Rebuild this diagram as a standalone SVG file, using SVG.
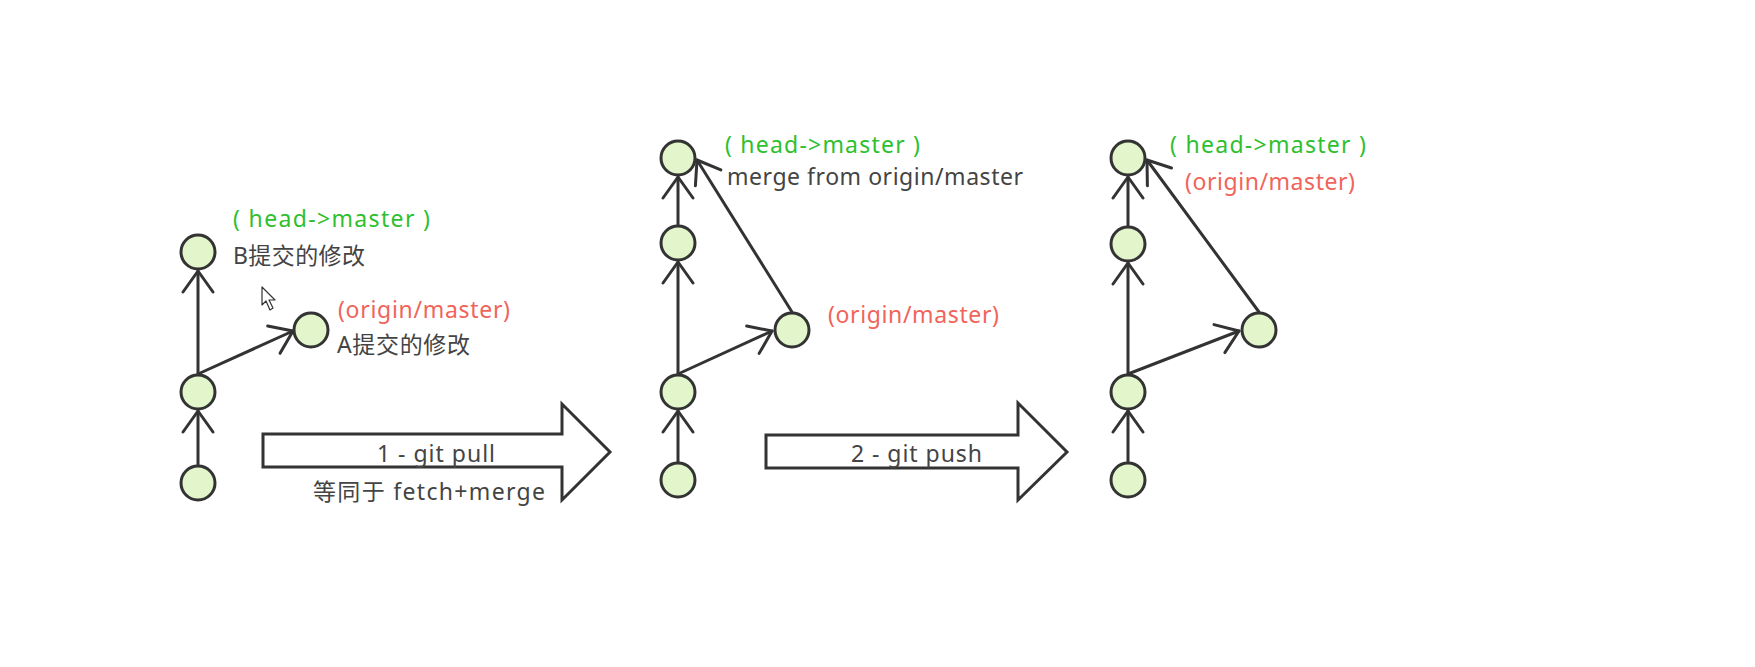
<svg xmlns="http://www.w3.org/2000/svg" width="1755" height="667" viewBox="0 0 1755 667">
<style>
.node{fill:#e2f5cb;stroke:#333;stroke-width:3}
.edge{stroke:#333;stroke-width:3;fill:none;stroke-linecap:round}
.blk{fill:#fff;stroke:#333;stroke-width:3;stroke-linejoin:miter}
text{font-family:"Noto Sans","Noto Sans CJK SC",sans-serif;font-size:23px}
.g{fill:#2fbf2f}
.r{fill:#f0645a}
.k{fill:#444}
</style>
<defs>
<marker id="ah" markerUnits="userSpaceOnUse" markerWidth="40" markerHeight="40" viewBox="-25 -20 30 40" refX="0" refY="0" orient="auto">
<path d="M -21 -15 L 0 0 L -21 15" fill="none" stroke="#333" stroke-width="3" stroke-linecap="round" stroke-linejoin="round"/>
</marker>
</defs>
<rect width="1755" height="667" fill="#fff"/>
<g id="connectors">
<line class="edge" x1="198" y1="465" x2="198" y2="411" marker-end="url(#ah)"/>
<line class="edge" x1="198" y1="374" x2="198" y2="271" marker-end="url(#ah)"/>
<line class="edge" x1="198" y1="374" x2="293" y2="331" marker-end="url(#ah)"/>
<line class="edge" x1="678" y1="462" x2="678" y2="411" marker-end="url(#ah)"/>
<line class="edge" x1="678" y1="374" x2="678" y2="262" marker-end="url(#ah)"/>
<line class="edge" x1="678" y1="225" x2="678" y2="177" marker-end="url(#ah)"/>
<line class="edge" x1="678" y1="374" x2="772" y2="331" marker-end="url(#ah)"/>
<line class="edge" x1="792" y1="312" x2="697" y2="160" marker-end="url(#ah)"/>
<line class="edge" x1="1128" y1="462" x2="1128" y2="411" marker-end="url(#ah)"/>
<line class="edge" x1="1128" y1="374" x2="1128" y2="263" marker-end="url(#ah)"/>
<line class="edge" x1="1128" y1="226" x2="1128" y2="177" marker-end="url(#ah)"/>
<line class="edge" x1="1128" y1="374" x2="1239" y2="331" marker-end="url(#ah)"/>
<line class="edge" x1="1259" y1="312" x2="1147" y2="160" marker-end="url(#ah)"/>
</g>
<g id="d1-n1"><circle class="node" cx="198" cy="483" r="17"/></g>
<g id="d1-n2"><circle class="node" cx="198" cy="392" r="17"/></g>
<g id="d1-nB"><circle class="node" cx="198" cy="252" r="17"/>
<text class="g" x="233" y="227" textLength="197" lengthAdjust="spacing">( head-&gt;master )</text>
<text class="k" x="233" y="264" textLength="132" lengthAdjust="spacing">B提交的修改</text></g>
<g id="d1-nA"><circle class="node" cx="311" cy="330" r="17"/>
<text class="r" x="338" y="318" textLength="172" lengthAdjust="spacing">(origin/master)</text>
<text class="k" x="337" y="353" textLength="133" lengthAdjust="spacing">A提交的修改</text></g>
<g id="step1"><polygon class="blk" points="263,434 562,434 562,404 610,452 562,500 562,467 263,467"/>
<text class="k" x="377" y="462" textLength="118" lengthAdjust="spacing">1 - git pull</text>
<text class="k" x="313" y="500" textLength="232" lengthAdjust="spacing">等同于 fetch+merge</text></g>
<g id="d2-n1"><circle class="node" cx="678" cy="480" r="17"/></g>
<g id="d2-n2"><circle class="node" cx="678" cy="392" r="17"/></g>
<g id="d2-n3"><circle class="node" cx="678" cy="243" r="17"/></g>
<g id="d2-n4"><circle class="node" cx="678" cy="158" r="17"/>
<text class="g" x="725" y="153" textLength="195" lengthAdjust="spacing">( head-&gt;master )</text>
<text class="k" x="727" y="185" textLength="296" lengthAdjust="spacing">merge from origin/master</text></g>
<g id="d2-nA"><circle class="node" cx="792" cy="330" r="17"/>
<text class="r" x="828" y="323" textLength="171" lengthAdjust="spacing">(origin/master)</text></g>
<g id="step2"><polygon class="blk" points="766,435 1018,435 1018,403 1067,452 1018,500 1018,468 766,468"/>
<text class="k" x="851" y="462" textLength="131" lengthAdjust="spacing">2 - git push</text></g>
<g id="d3-n1"><circle class="node" cx="1128" cy="480" r="17"/></g>
<g id="d3-n2"><circle class="node" cx="1128" cy="392" r="17"/></g>
<g id="d3-n3"><circle class="node" cx="1128" cy="244" r="17"/></g>
<g id="d3-n4"><circle class="node" cx="1128" cy="158" r="17"/>
<text class="g" x="1170" y="153" textLength="196" lengthAdjust="spacing">( head-&gt;master )</text>
<text class="r" x="1185" y="190" textLength="170" lengthAdjust="spacing">(origin/master)</text></g>
<g id="d3-nA"><circle class="node" cx="1259" cy="330" r="17"/></g>
<path d="M262,287 L262,305 L266,301 L270,310 L273,308 L269,300 L275,300 Z" fill="#fff" stroke="#333" stroke-width="1.2" stroke-linejoin="round"/>
</svg>
